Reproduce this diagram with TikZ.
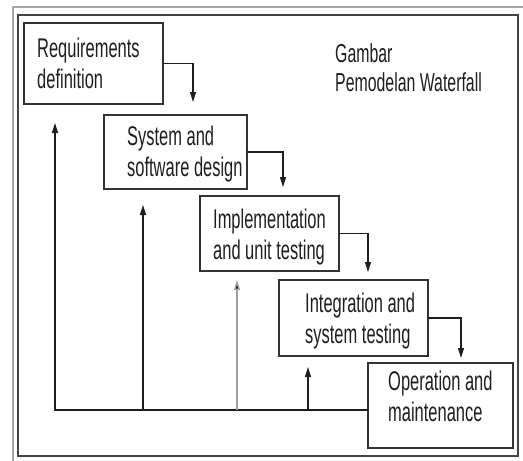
\documentclass[tikz,border=0pt]{standalone}
\usepackage{fontspec}
\setmainfont[FakeStretch=0.61]{Liberation Sans}
\usetikzlibrary{arrows.meta,calc}

\definecolor{ink}{HTML}{1E1E1E}
\definecolor{boxline}{HTML}{333333}
\definecolor{frameline}{HTML}{444444}
\definecolor{paleline}{HTML}{A0A0A0}

\begin{document}
\begin{tikzpicture}[x=1pt,y=-1pt,
  stage/.style={draw=boxline, line width=1.6pt, anchor=north west,
                inner sep=0pt, outer sep=0pt},
  lbl/.style={anchor=base west, inner sep=0pt, text=ink,
              font=\fontsize{27}{31}\selectfont},
  flow/.style={draw=ink, line width=1.4pt,
               -{Triangle[length=10pt,width=6pt]}},
  paleflow/.style={flow, draw=paleline, -{Triangle[length=10pt,width=6pt,fill=ink]}}
]
\useasboundingbox (0,0) rectangle (523,461);

% page frame
\draw[gray!70, line width=1.6pt] (13,461) -- (13,7) -- (523,7);
\draw[frameline, line width=1.5pt] (18,15) rectangle (518,456);

% stages
\node[stage, minimum width=139pt, minimum height=81pt] (b1) at (24,23) {};
\node[stage, minimum width=143pt, minimum height=74pt] (b2) at (104,115) {};
\node[stage, minimum width=139pt, minimum height=75pt] (b3) at (200,196) {};
\node[stage, minimum width=149pt, minimum height=76pt] (b4) at (279,280) {};
\node[stage, minimum width=145pt, minimum height=85pt] (b5) at (368,363) {};

% stage titles
\node[lbl] (t1) at (37,57)  {\begin{tabular}[t]{@{}l@{}}Requirements\\definition\end{tabular}};
\node[lbl] (t2) at (127,145) {\begin{tabular}[t]{@{}l@{}}System and\\software design\end{tabular}};
\node[lbl] (t3) at (213,228) {\begin{tabular}[t]{@{}l@{}}Implementation\\and unit testing\end{tabular}};
\node[lbl] (t4) at (305,312) {\begin{tabular}[t]{@{}l@{}}Integration and\\system testing\end{tabular}};
\node[lbl] (t5) at (388,390) {\begin{tabular}[t]{@{}l@{}}Operation and\\maintenance\end{tabular}};

% caption
\node[lbl, font=\fontsize{26}{29}\selectfont] (cap) at (335,62)
  {\begin{tabular}[t]{@{}l@{}}Gambar\\Pemodelan Waterfall\end{tabular}};

% downward hand-offs
\coordinate (d1) at (193,102);
\coordinate (d2) at (283,187);
\coordinate (d3) at (368,272);
\coordinate (d4) at (461,358);
\draw[flow] (b1.east) -| (d1);
\draw[flow] (b2.east) -| (d2);
\draw[flow] (b3.east) -| (d3);
\draw[flow] (b4.east) -| (d4);

% feedback paths
\coordinate (base) at (55,410);
\coordinate (u1) at (55,123);
\coordinate (u2) at (143,205);
\coordinate (u3) at (237,280);
\coordinate (u4) at (308,367);
\draw[flow] (b5.west |- base) -- (base) -- (u1);
\draw[flow] (u2 |- base) -- (u2);
\draw[paleflow] (u3 |- base) -- (u3);
\draw[flow] (u4 |- base) -- (u4);
\end{tikzpicture}
\end{document}
